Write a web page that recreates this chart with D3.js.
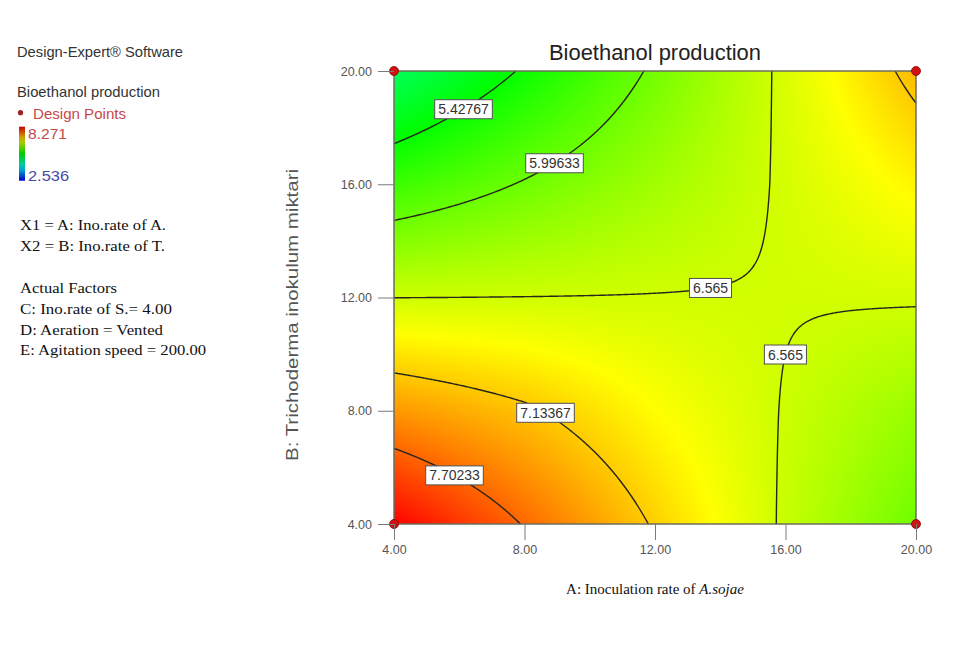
<!DOCTYPE html>
<html>
<head>
<meta charset="utf-8">
<script src="https://cdn.jsdelivr.net/npm/d3@7"></script>
<style>
  body { margin: 0; background: #fff; }
  svg { display: block; font-family: Arial, "Liberation Sans", sans-serif; }
</style>
</head>
<body>
<svg id="chart" width="976" height="646"></svg>
<script>
// Factor levels: A = inoculation rate of A. sojae, B = Trichoderma inoculum
const levelsA = [4, 8, 12, 16, 20];
const levelsB = [4, 8, 12, 16, 20];

// Predicted bioethanol production; one row per B level (4 -> 20), columns follow levelsA
const bioethanol = [
  [8.270, 7.684, 7.104, 6.524, 6.020],
  [7.420, 7.180, 6.840, 6.550, 6.260],
  [6.563, 6.569, 6.575, 6.580, 6.592],
  [5.730, 6.020, 6.310, 6.600, 6.890],
  [4.886, 5.466, 6.046, 6.626, 7.230]
];

// Contour levels and where each label sits along its line (A, B)
const contourLevels = [5.42767, 5.99633, 6.565, 7.13367, 7.70233];
const labelLevels = [5.42767, 5.99633, 6.565, 6.565, 7.13367, 7.70233];
const labelA = [6.0, 8.79, 13.62, 16.03, 8.66, 5.97];
const labelB = [18.88, 17.01, 12.79, 9.98, 7.97, 5.97];

// Design points (A, B)
const designA = [4, 4, 20, 20];
const designB = [4, 20, 4, 20];

const ticksA = [4, 8, 12, 16, 20];
const ticksB = [4, 8, 12, 16, 20];
const responseMin = 2.536;
const responseMax = 8.271;

const legendLines = [
  "X1 = A: Ino.rate of A.",
  "X2 = B: Ino.rate of T."
];
const factorLines = [
  "Actual Factors",
  "C: Ino.rate of S.= 4.00",
  "D: Aeration = Vented",
  "E: Agitation speed = 200.00"
];

// ---------------------------------------------------------------
const svg = d3.select("#chart");
const plotL = 394, plotR = 916, plotT = 71, plotB = 524;
const W = plotR - plotL, H = plotB - plotT;

const x = d3.scaleLinear().domain([4, 20]).range([plotL, plotR]);
const y = d3.scaleLinear().domain([4, 20]).range([plotB, plotT]);

const hue = d3.scaleLinear().domain([responseMin, responseMax]).range([240, 0]).clamp(true);
const colorOf = (v, l = 0.5) => d3.hsl(hue(v), 1, l).rgb();

// bilinear lookup in the response table
function response(a, b) {
  const ia = Math.max(0, Math.min(levelsA.length - 2, d3.bisectRight(levelsA, a) - 1));
  const ib = Math.max(0, Math.min(levelsB.length - 2, d3.bisectRight(levelsB, b) - 1));
  const u = (a - levelsA[ia]) / (levelsA[ia + 1] - levelsA[ia]);
  const v = (b - levelsB[ib]) / (levelsB[ib + 1] - levelsB[ib]);
  const r0 = bioethanol[ib], r1 = bioethanol[ib + 1];
  const lo = r0[ia] * (1 - u) + r0[ia + 1] * u;
  const hi = r1[ia] * (1 - u) + r1[ia + 1] * u;
  return lo * (1 - v) + hi * v;
}

// sample the surface at every pixel of the plot area
const values = new Float64Array(W * H);
for (let j = 0; j < H; j++) {
  const b = y.invert(plotT + j + 0.5);
  for (let i = 0; i < W; i++) {
    values[j * W + i] = response(x.invert(plotL + i + 0.5), b);
  }
}

// colour fill
const canvas = document.createElement("canvas");
canvas.width = W; canvas.height = H;
const ctx = canvas.getContext("2d");
const img = ctx.createImageData(W, H);
for (let k = 0; k < W * H; k++) {
  const c = colorOf(values[k]);
  img.data[4 * k] = c.r; img.data[4 * k + 1] = c.g; img.data[4 * k + 2] = c.b; img.data[4 * k + 3] = 255;
}
ctx.putImageData(img, 0, 0);
svg.append("image")
  .attr("x", plotL).attr("y", plotT).attr("width", W).attr("height", H)
  .attr("preserveAspectRatio", "none")
  .attr("href", canvas.toDataURL());

// contour lines (interior parts of the iso-bands only)
const bands = d3.contours().size([W, H]).thresholds(contourLevels)(values);
const onEdge = p => p[0] <= 0 || p[0] >= W || p[1] <= 0 || p[1] >= H;
const linesByLevel = new Map();
bands.forEach(band => {
  const runs = [];
  band.coordinates.forEach(poly => poly.forEach(ring => {
    let pts = ring.slice(0, ring.length - 1);
    const start = pts.findIndex(onEdge);
    if (start < 0) { runs.push(ring.slice()); return; }
    pts = pts.slice(start).concat(pts.slice(0, start));
    const n = pts.length;
    let cur = null;
    for (let k = 0; k < n; k++) {
      const p = pts[k], q = pts[(k + 1) % n];
      if (onEdge(p) && onEdge(q)) { if (cur) { runs.push(cur); cur = null; } continue; }
      if (!cur) cur = [p];
      cur.push(q);
    }
    if (cur) runs.push(cur);
  }));
  linesByLevel.set(band.value, runs.map(r => r.map(p => [plotL + p[0], plotT + p[1]])));
});

const line = d3.line();
const contourG = svg.append("g").attr("fill", "none").attr("stroke", "#26261e").attr("stroke-width", 1.4);
contourLevels.forEach(lv => {
  (linesByLevel.get(lv) || []).forEach(run => contourG.append("path").attr("d", line(run)));
});

// frame
svg.append("rect")
  .attr("x", plotL).attr("y", plotT).attr("width", W).attr("height", H)
  .attr("fill", "none").attr("stroke", "#6d6d5c").attr("stroke-width", 1.5);

// contour labels
labelLevels.forEach((lv, idx) => {
  const tx = x(labelA[idx]), ty = y(labelB[idx]);
  let best = [tx, ty], bestD = Infinity;
  (linesByLevel.get(lv) || []).forEach(run => run.forEach(p => {
    const d = (p[0] - tx) ** 2 + (p[1] - ty) ** 2;
    if (d < bestD) { bestD = d; best = p; }
  }));
  const g = svg.append("g").attr("transform", `translate(${best[0]},${best[1]})`);
  const t = g.append("text")
    .attr("text-anchor", "middle").attr("dy", "0.36em")
    .attr("font-size", 14).attr("fill", "#333")
    .text(String(lv));
  const w = t.node().getComputedTextLength() + 7;
  g.insert("rect", "text")
    .attr("x", -w / 2).attr("y", -9.5).attr("width", w).attr("height", 19)
    .attr("fill", "#fff").attr("stroke", "#505050").attr("stroke-width", 1);
});

// design points
svg.append("g").selectAll("circle")
  .data(designA.map((a, i) => [a, designB[i]]))
  .join("circle")
  .attr("cx", d => x(d[0])).attr("cy", d => y(d[1])).attr("r", 4.5)
  .attr("fill", "#d01313").attr("stroke", "#8a0000").attr("stroke-width", 0.8);

// axes
const fmt = d3.format(".2f");
const xAxis = svg.append("g").attr("transform", `translate(0,${plotB})`)
  .call(d3.axisBottom(x).tickValues(ticksA).tickFormat(fmt).tickSize(16).tickPadding(5));
const yAxis = svg.append("g").attr("transform", `translate(${plotL},0)`)
  .call(d3.axisLeft(y).tickValues(ticksB).tickFormat(fmt).tickSize(16).tickPadding(6));
[xAxis, yAxis].forEach(ax => {
  ax.select(".domain").remove();
  ax.selectAll(".tick line").attr("stroke", "#7a7a7a");
  ax.selectAll(".tick text").attr("fill", "#555").attr("font-size", 12.5)
    .attr("font-family", "Arial, 'Liberation Sans', sans-serif");
});

// title
svg.append("text")
  .attr("x", (plotL + plotR) / 2).attr("y", 60).attr("text-anchor", "middle")
  .attr("font-size", 22).attr("fill", "#222")
  .attr("textLength", 212).attr("lengthAdjust", "spacingAndGlyphs")
  .text("Bioethanol production");

// axis titles
const xt = svg.append("text")
  .attr("x", (plotL + plotR) / 2).attr("y", 594).attr("text-anchor", "middle")
  .attr("font-family", "'Liberation Serif', 'Times New Roman', serif")
  .attr("font-size", 15).attr("fill", "#111");
xt.append("tspan").text("A: Inoculation rate of ");
xt.append("tspan").attr("font-style", "italic").text("A.sojae");

svg.append("text")
  .attr("transform", "translate(298,315) rotate(-90)")
  .attr("text-anchor", "middle").attr("font-size", 16).attr("fill", "#555")
  .attr("textLength", 292).attr("lengthAdjust", "spacingAndGlyphs")
  .text("B: Trichoderma inokulum miktari");

// legend panel
const lg = svg.append("g");
const sans = (txt, xx, yy, len, fill) => lg.append("text")
  .attr("x", xx).attr("y", yy).attr("font-size", 15).attr("fill", fill)
  .attr("textLength", len).attr("lengthAdjust", "spacingAndGlyphs").text(txt);
sans("Design-Expert\u00AE Software", 17, 57, 166, "#333");
sans("Bioethanol production", 17, 97, 143, "#333");
lg.append("circle").attr("cx", 20.5).attr("cy", 112.7).attr("r", 2.6).attr("fill", "#a01f1f");
sans("Design Points", 33, 118.5, 93, "#c84848");

const grad = svg.append("defs").append("linearGradient")
  .attr("id", "ramp").attr("x1", 0).attr("y1", 0).attr("x2", 0).attr("y2", 1);
d3.range(0, 1.0001, 0.1).forEach(o => {
  grad.append("stop").attr("offset", o)
    .attr("stop-color", colorOf(responseMax - o * (responseMax - responseMin), 0.4).formatHex());
});
lg.append("rect").attr("x", 19).attr("y", 126.7).attr("width", 6).attr("height", 54).attr("fill", "url(#ramp)");
sans(String(responseMax), 28, 138.5, 39, "#c04a4a");
sans(String(responseMin), 28, 180.5, 41, "#4848a8");

const serif = (txt, yy, len) => lg.append("text")
  .attr("x", 20).attr("y", yy)
  .attr("font-family", "'Liberation Serif', 'Times New Roman', serif")
  .attr("font-size", 15).attr("fill", "#111")
  .attr("textLength", len).attr("lengthAdjust", "spacingAndGlyphs").text(txt);
const legendLens = [146, 145];
legendLines.forEach((t, i) => serif(t, 230 + i * 21, legendLens[i]));
const factorYs = [293, 314, 334.5, 355];
const factorLens = [97, 152, 143, 186];
factorLines.forEach((t, i) => serif(t, factorYs[i], factorLens[i]));
</script>
</body>
</html>
